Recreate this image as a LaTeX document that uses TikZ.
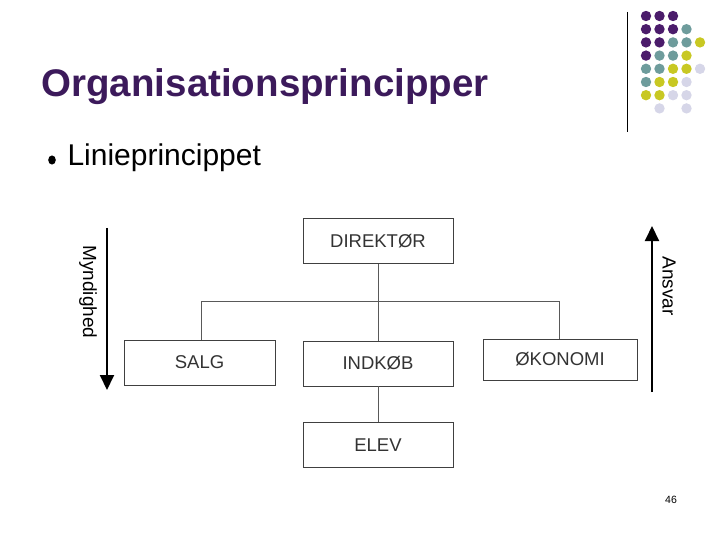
\documentclass[tikz,border=0pt]{standalone}
\usepackage{fontspec}
\setmainfont{Liberation Sans}
\usetikzlibrary{arrows.meta}
\definecolor{dP}{HTML}{4B1C6B}
\definecolor{dT}{HTML}{6E9C9C}
\definecolor{dY}{HTML}{C8C823}
\definecolor{dL}{HTML}{D6D6E8}
\definecolor{ttl}{HTML}{3C1A5B}
\begin{document}
\begin{tikzpicture}[x=1pt,y=-1pt,
 box/.style={draw=black!75,line width=0.8pt,minimum width=150pt,minimum height=45pt,inner sep=0pt,font=\fontsize{18.5}{20}\selectfont,text=black!80},
 conn/.style={draw=black!65,line width=0.8pt},
 bigarrow/.style={line width=2pt,-{Triangle[length=15pt,width=14pt]}}]
\useasboundingbox (0,0) rectangle (720,540);
\draw[line width=0.8pt] (627,12) -- (627,132);
\foreach \row/\cols in {0/{dP,dP,dP,,},1/{dP,dP,dP,dT,},2/{dP,dP,dT,dT,dY},3/{dP,dT,dT,dY,},4/{dT,dT,dY,dY,dL},5/{dT,dY,dY,dL,},6/{dY,dY,dL,dL,},7/{,dL,,dL,}}{
 \foreach \c [count=\i from 0] in \cols {
  \ifx\c\empty\else\fill[\c] (646+13.5*\i,16+13.2*\row) circle (5.2pt);\fi
 }}
\node[anchor=west,text=ttl,font=\fontsize{38.5}{44}\selectfont\bfseries] (title) at (38,87) {Organisationsprincipper};
\fill (52,160) ellipse (3.8pt and 4.6pt);
\node[anchor=west,font=\fontsize{30}{34}\selectfont] (sub) at (64,158) {Linieprincippet};
\node[box] (dir) at (378,241) {DIREKTØR};
\node[box,minimum width=151pt] (salg) at (199.5,362.5) {SALG};
\node[box] (ind) at (378,363.5) {INDKØB};
\node[box,minimum width=154pt,minimum height=41pt] (oko) at (560,359.5) {ØKONOMI};
\node[box] (elev) at (378,445) {ELEV};
\coordinate (jl) at (201,301); \coordinate (jr) at (559,301);
\draw[conn] (dir) -- (ind);
\draw[conn] (ind) -- (elev);
\draw[conn] (salg.north -| jl) -- (jl) -- (jr) -- (oko.north -| jr);
\coordinate (ma) at (107,228); \coordinate (mb) at (107,390);
\draw[bigarrow] (ma) -- (mb);
\node[rotate=-90,font=\fontsize{19}{21}\selectfont] (myn) at (88,292) {Myndighed};
\coordinate (aa) at (652,392); \coordinate (ab) at (652,226);
\draw[bigarrow] (aa) -- (ab);
\node[rotate=-90,font=\fontsize{19}{21}\selectfont] (ans) at (669,286) {Ansvar};
\node[font=\fontsize{10.5}{12}\selectfont] (pg) at (671,500) {46};
\end{tikzpicture}
\end{document}
